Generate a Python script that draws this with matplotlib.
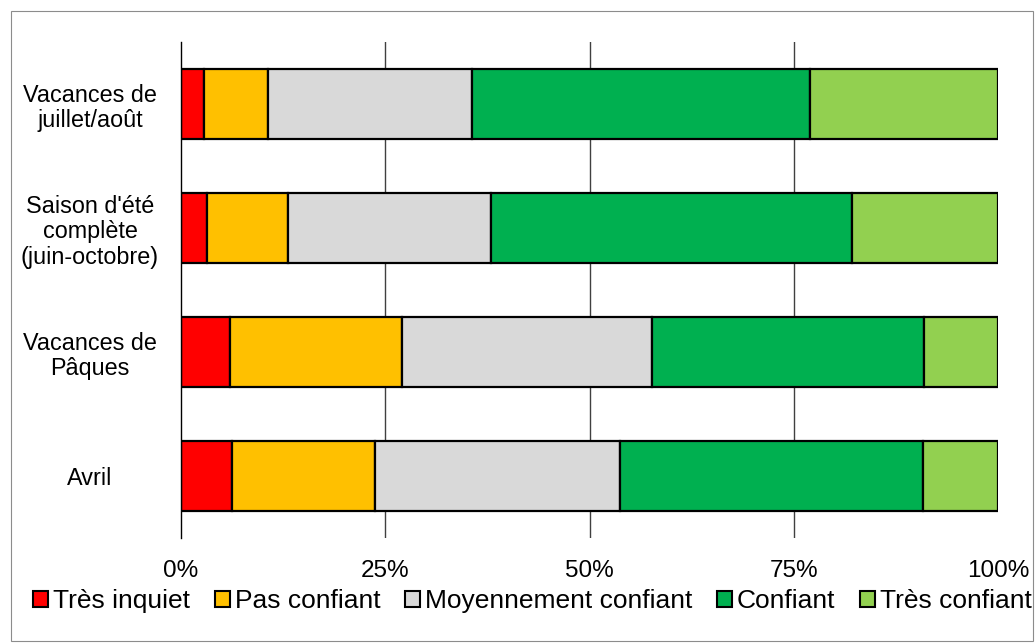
import numpy as np
import matplotlib
matplotlib.use('Agg')
import matplotlib.pyplot as plt
from matplotlib.patches import Rectangle

plt.rcParams['font.family'] = ['Liberation Sans', 'DejaVu Sans']

# Categories, top to bottom as drawn
categories = ['Vacances de\njuillet/août',
              "Saison d'été\ncomplète\n(juin-octobre)",
              'Vacances de\nPâques',
              'Avril']

series_names = ['Très inquiet', 'Pas confiant', 'Moyennement confiant',
                'Confiant', 'Très confiant']

# Shares in % per category (same order as categories)
tres_inquiet = [2.8, 3.2, 6.0, 6.2]
pas_confiant = [7.8, 9.9, 21.1, 17.5]
moyennement = [25.0, 24.8, 30.5, 30.0]
confiant = [41.4, 44.2, 33.4, 37.1]
tres_confiant = [23.0, 17.9, 9.0, 9.2]

colors = ['#FF0000', '#FFC000', '#D9D9D9', '#00B050', '#92D050']

xticks = [0, 25, 50, 75, 100]
xtick_labels = ['0%', '25%', '50%', '75%', '100%']

fig = plt.figure(figsize=(10.35, 6.43), dpi=100)
ax = fig.add_axes([181 / 1035, 1 - 538 / 643, (998 - 181) / 1035, (538 - 42) / 643])

y = np.arange(len(categories))
left = np.zeros(len(categories))
for name, vals, col in zip(series_names,
                           [tres_inquiet, pas_confiant, moyennement, confiant, tres_confiant],
                           colors):
    vals = np.array(vals)
    ax.barh(y, vals, left=left, height=0.57, color=col, edgecolor='black',
            linewidth=1.6, label=name, zorder=3)
    left += vals

ax.set_ylim(len(categories) - 0.5, -0.5)
ax.set_xlim(0, 100)
ax.set_yticks(y)
ax.set_yticklabels(categories, fontsize=16.8, linespacing=1.15, ha='center')
ax.tick_params(axis='y', length=0, pad=65.5)
ax.set_xticks(xticks)
ax.set_xticklabels(xtick_labels, fontsize=17.5)
ax.tick_params(axis='x', length=0, pad=16)

for xv in [25, 50, 75]:
    ax.axvline(xv, color='#404040', linewidth=1.0, zorder=1)

for side in ['top', 'right', 'bottom']:
    ax.spines[side].set_visible(False)
ax.spines['left'].set_color('black')
ax.spines['left'].set_linewidth(1.0)
ax.spines['left'].set_zorder(4)

leg = fig.legend(loc='center', bbox_to_anchor=(0.5145, 1 - 601 / 643), ncol=5,
                 frameon=False, fontsize=19, handlelength=0.57, handleheight=0.57,
                 handletextpad=0.2, columnspacing=0.92, borderaxespad=0)
for h in leg.legend_handles:
    h.set_linewidth(1.5)

fig.patches.append(Rectangle((11 / 1035, 2 / 643), 1 - 13 / 1035, 1 - 13 / 643,
                             transform=fig.transFigure, fill=False,
                             edgecolor='#8C8C8C', linewidth=0.8))

fig.savefig('out.png', dpi=100)
